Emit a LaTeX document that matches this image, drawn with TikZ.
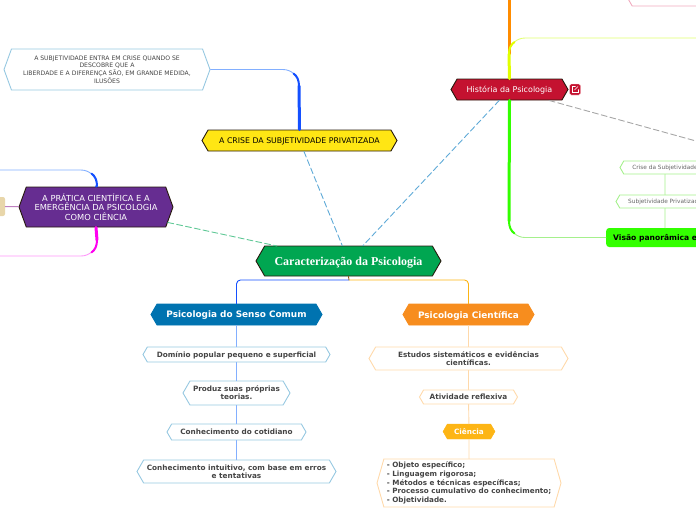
\documentclass[tikz,border=0pt]{standalone}
\usepackage{fontspec}
\setmainfont{DejaVu Sans}
\newfontfamily\rootfont{Liberation Serif}
\usepackage{xcolor}
\definecolor{mygreen}{RGB}{0,166,81}
\definecolor{myyellow}{RGB}{255,230,20}
\definecolor{mypurple}{RGB}{102,45,145}
\definecolor{myred}{RGB}{196,18,48}
\definecolor{myblue}{RGB}{0,115,176}
\definecolor{myorange}{RGB}{247,141,30}
\definecolor{mygold}{RGB}{253,181,21}
\definecolor{mylime}{RGB}{51,255,0}
\definecolor{mytan}{RGB}{232,214,170}
\definecolor{mytext}{RGB}{68,68,68}
\definecolor{skyline}{RGB}{150,200,225}
\definecolor{skydash}{RGB}{95,170,215}
\definecolor{greendash}{RGB}{95,200,150}
\definecolor{bluelight}{RGB}{130,175,255}
\definecolor{bluedeep}{RGB}{20,80,255}
\definecolor{magdeep}{RGB}{255,0,240}
\definecolor{maglight}{RGB}{255,150,250}
\definecolor{orangelight}{RGB}{255,217,170}
\definecolor{orangedeep}{RGB}{255,140,0}
\definecolor{limelight}{RGB}{165,240,140}
\definecolor{yeldeep}{RGB}{225,255,0}
\definecolor{yellight}{RGB}{225,255,110}
\definecolor{pinkline}{RGB}{240,170,190}
\usetikzlibrary{shapes.symbols}
\begin{document}
\begin{tikzpicture}[x=1pt,y=-1pt,line cap=round]
	\tikzstyle{hex}=[signal,signal to=west and east,signal pointer angle=120,draw,inner sep=0pt,align=center,text=mytext];
	\tikzstyle{bighex}=[hex,draw=black!80!brown,text=white,line width=.9pt];
	\tikzstyle{skyhex}=[hex,draw=skyline,line width=.9pt,font=\bfseries\fontsize{7.3}{8}\selectfont];
	\tikzstyle{orahex}=[hex,draw=orangelight,line width=.9pt,font=\bfseries\fontsize{7.3}{8}\selectfont];
	\tikzstyle{limehex}=[hex,draw=limelight,line width=.9pt,text=black!60,font=\fontsize{5.8}{7}\selectfont];
	\tikzstyle{oneline}=[text depth=0pt];
	\tikzstyle{link}=[dash pattern=on 6pt off 3pt,line width=.9pt];
	\tikzstyle{thin}=[line width=.9pt];
	\tikzstyle{mid}=[line width=2pt];
	\tikzstyle{fat}=[line width=3pt];
	\clip (0,0) rectangle (696,520);
	\useasboundingbox (0,0) rectangle (696,520);
	% main nodes
	\node[bighex,oneline,fill=mygreen,minimum width=185,minimum height=30,font=\rootfont\bfseries\fontsize{12}{14}\selectfont] (root) at (348.5,261) {Caracterização da Psicologia};
	\node[bighex,oneline,fill=myyellow,text=black,minimum width=195,minimum height=21,font=\fontsize{7.8}{9}\selectfont] (crise) at (299.5,140.5) {A CRISE DA SUBJETIVIDADE PRIVATIZADA};
	\node[hex,draw=skyline,signal pointer angle=140,line width=.9pt,minimum width=206,minimum height=41,font=\fontsize{6.1}{7.7}\selectfont] (subj) at (107,69.5) {A SUBJETIVIDADE ENTRA EM CRISE QUANDO SE\\DESCOBRE QUE A\\LIBERDADE E A DIFERENÇA SÃO, EM GRANDE MEDIDA,\\ILUSÕES};
	\node[bighex,fill=mypurple,signal pointer angle=140,minimum width=154,minimum height=40,font=\fontsize{8.3}{9.7}\selectfont] (pratica) at (96,207) {A PRÁTICA CIENTÍFICA E A\\EMERGÊNCIA DA PSICOLOGIA\\COMO CIÊNCIA};
	\node[fill=mytan,rounded corners=2pt,minimum width=25,minimum height=19,inner sep=0pt] (tan) at (-7.5,206.5) {};
	\node[bighex,oneline,fill=myred,minimum width=117,minimum height=21,font=\fontsize{8}{10}\selectfont] (hist) at (509.5,89.5) {História da Psicologia};
	\node[fill=myred,draw=red!15,rounded corners=1.5pt,minimum size=11,inner sep=0pt] (icon) at (575,89.5) {};
	\draw[white,line width=.4pt] (575.5,86.5) -- (572,86.5) -- (572,92.5) -- (578,92.5) -- (578,89.5);
	\draw[white,line width=.4pt] (574.5,90) -- (578,86.5);
	% top right
	\node[hex,draw=pinkline,line width=.9pt,text=black!60,minimum width=110,minimum height=18,font=\fontsize{5.2}{6}\selectfont] (corpo) at (682,-3) {Corpo / Comparação};
	\node[limehex,oneline,minimum width=90,minimum height=13] (cr) at (665,167.5) {Crise da Subjetividade};
	\node[limehex,oneline,minimum width=98,minimum height=13] (pr) at (665,201.5) {Subjetividade Privatizada};
	\node[oneline,fill=mylime,rounded corners=3pt,anchor=west,minimum width=118,minimum height=19,inner sep=0pt,text=black,font=\bfseries\fontsize{7.6}{9}\selectfont] (visao) at (606,237.5) {\hspace{7pt}Visão panorâmica e contexto\hfill};
	% left branch
	\node[bighex,oneline,draw=myblue,fill=myblue,minimum width=171,minimum height=21,font=\bfseries\fontsize{8.9}{10}\selectfont] (senso) at (236.5,314.5) {Psicologia do Senso Comum};
	\node[skyhex,oneline,minimum width=187,minimum height=15] (dom) at (236.5,354.5) {Domínio popular pequeno e superficial};
	\node[skyhex,minimum width=107,minimum height=24] (prod) at (236.5,393) {Produz suas próprias\\teorias.};
	\node[skyhex,oneline,minimum width=139,minimum height=16] (cot) at (236.5,432) {Conhecimento do cotidiano};
	\node[skyhex,minimum width=199,minimum height=23] (int) at (236.5,471.5) {Conhecimento intuitivo, com base em erros\\e tentativas};
	% right branch
	\node[bighex,oneline,draw=myorange,fill=myorange,minimum width=131,minimum height=21,font=\bfseries\fontsize{8.9}{10}\selectfont] (cient) at (468.5,314.5) {Psicologia Científica};
	\node[orahex,minimum width=199,minimum height=23] (est) at (468.5,358.5) {Estudos sistemáticos e evidências\\científicas.};
	\node[orahex,oneline,minimum width=98,minimum height=14] (ativ) at (468.5,397) {Atividade reflexiva};
	\node[hex,oneline,draw=mygold,fill=mygold,text=white,minimum width=52,minimum height=15,font=\bfseries\fontsize{7.3}{8}\selectfont] (cien) at (469,431.5) {Ciência};
	\node[orahex,signal pointer angle=148,align=left,minimum width=184,minimum height=48,font=\bfseries\fontsize{7.2}{8.6}\selectfont] (lista) at (469,483) {- Objeto específico;\\- Linguagem rigorosa;\\- Métodos e técnicas específicas;\\- Processo cumulativo do conhecimento;\\- Objetividade.};
	% corner points
	\coordinate (c1) at (299,86);
	\coordinate (c2) at (97,186);
	\coordinate (c3) at (97,240);
	\coordinate (c4) at (509,221);
	\coordinate (c5) at (509,54);
	\coordinate (c6) at (349,280);
	\coordinate (rootleft) at (277,246);
	\coordinate (e1) at (696,38);
	\coordinate (e2) at (0,170);
	\coordinate (e3) at (0,256);
	\coordinate (e4) at (696,141);
	\coordinate (e5) at (509,0);
	% dashed links
	\draw[link,skydash] (crise) to (root);
	\draw[link,greendash] (pratica) to (rootleft);
	\draw[link,skydash] (hist) to (root);
	\draw[link,black!35] (hist) to (e4);
	% bent lines
	\draw[bluelight,thin,rounded corners=16pt] (subj.east) -| (c1);
	\draw[bluedeep,mid] (293.5,73.5) .. controls (297,76) and (299,80) .. (c1);
	\draw[bluedeep,fat] (crise.north) to (c1);
	\draw[bluelight,thin,rounded corners=16pt] (e2) -| (c2);
	\draw[bluedeep,mid] (91.5,173.5) .. controls (95,176) and (97,180) .. (c2);
	\draw[bluedeep,mid] (pratica.north) to (c2);
	\draw[maglight,thin,rounded corners=16pt] (e3) -| (c3);
	\draw[magdeep,mid] (91.5,252.5) .. controls (95,250) and (97,246) .. (c3);
	\draw[magdeep,fat] (pratica.south) to (c3);
	\draw[violet!50,thin] (tan) to (pratica);
	\draw[limelight,thin,rounded corners=16pt] (visao.west) -| (c4);
	\draw[mylime,mid] (514.5,233.5) .. controls (511,231) and (509,227) .. (c4);
	\draw[mylime,fat] (hist.south) to (c4);
	\draw[orangedeep,fat] (e5) to (c5);
	\draw[yellight,thin,rounded corners=16pt] (e1) -| (c5);
	\draw[yeldeep,mid] (514.5,42) .. controls (511,44.5) and (509,48) .. (c5);
	\draw[yeldeep,fat] (hist.north) to (c5);
	\draw[limelight,thin] (cr) to (pr);
	\draw[limelight,thin] (pr) to (pr |- visao.north);
	% root branches
	\draw[myorange!60!black,thin] (root.south) to (c6);
	\draw[bluedeep,thin,rounded corners=4pt] (c6) -| (senso.north);
	\draw[mygold,thin,rounded corners=4pt] (c6) -| (cient.north);
	\draw[bluelight,thin] (senso) to (dom);
	\draw[bluelight,thin] (dom) to (prod);
	\draw[bluelight,thin] (prod) to (cot);
	\draw[bluelight,thin] (cot) to (int);
	\draw[orangelight,thin] (cient) to (est);
	\draw[orangelight,thin] (est) to (ativ);
	\draw[orangelight,thin] (ativ) to (cien);
	\draw[orangelight,thin] (cien) to (lista);
\end{tikzpicture}
\end{document}
